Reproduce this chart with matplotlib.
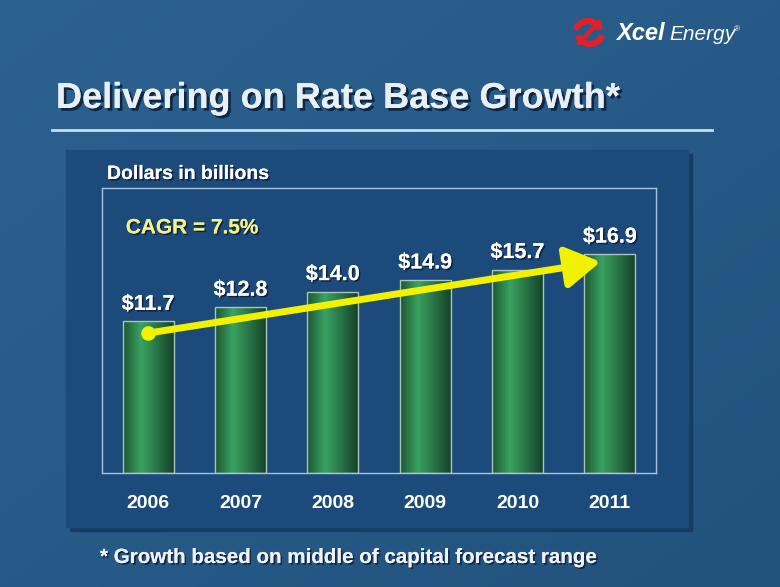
import numpy as np
import matplotlib
matplotlib.use('Agg')
import matplotlib.pyplot as plt
import matplotlib.patheffects as pe
from matplotlib.colors import LinearSegmentedColormap
from matplotlib.patches import Rectangle, Arc

plt.rcParams['font.family'] = ['Liberation Sans', 'DejaVu Sans']

# Datos
years = ['2006', '2007', '2008', '2009', '2010', '2011']
rate_base = [11.7, 12.8, 14.0, 14.9, 15.7, 16.9]
trend_start = 10.8   # inicio de la flecha CAGR
trend_end = 16.3     # punta de la flecha CAGR
trend_end_x = 4.9

title = 'Delivering on Rate Base Growth*'
subtitle = 'Dollars in billions'
cagr_text = 'CAGR = 7.5%'
footnote = '* Growth based on middle of capital forecast range'

W, H = 780, 587
fig = plt.figure(figsize=(W / 100, H / 100), dpi=100)

# Fondo (coordenadas en pixeles)
bg = fig.add_axes([0, 0, 1, 1], zorder=0)
bg.set_xlim(0, W)
bg.set_ylim(H, 0)
bg.axis('off')
yy, xx = np.mgrid[0:H, 0:W]
t = (xx / W * 0.5 + yy / H * 0.5)
c0 = np.array([0x2c, 0x62, 0x90]) / 255
c1 = np.array([0x22, 0x52, 0x7e]) / 255
img = c0[None, None, :] * (1 - t[..., None]) + c1[None, None, :] * t[..., None]
bg.imshow(img, extent=[0, W, H, 0], aspect='auto', zorder=0)

shadow = [pe.withSimplePatchShadow(offset=(2, -2), shadow_rgbFace='#0a1a30', alpha=0.8), pe.Normal()]
small_shadow = [pe.withSimplePatchShadow(offset=(1.2, -1.2), shadow_rgbFace='#0a1a30', alpha=0.8), pe.Normal()]

# Titulo y linea
bg.text(56, 108, title, fontsize=26, fontweight='bold', color='#e8eff6',
        va='baseline', ha='left', path_effects=shadow, zorder=3)
bg.plot([52, 712], [130, 130], color='#c6e0ee', lw=2, zorder=3)

# Logo
bg.add_patch(Arc((588, 34), 26, 26, theta1=200, theta2=340, color='#e0202a', lw=4.5, zorder=3))
bg.add_patch(Arc((590, 31), 26, 26, theta1=20, theta2=160, color='#e0202a', lw=4.5, zorder=3))
bg.plot([579, 599], [43, 22], color='#e0202a', lw=3, zorder=3)
bg.text(616, 40, 'Xcel', fontsize=17, fontweight='bold', style='italic', color='white',
        va='baseline', zorder=3)
bg.text(669, 40, 'Energy', fontsize=15, style='italic', color='white', va='baseline', zorder=3)
bg.text(734, 31, '®', fontsize=6, color='white', va='baseline', zorder=3)

# Panel
bg.add_patch(Rectangle((70, 154), 622, 377, color='#163c62', zorder=1))
bg.add_patch(Rectangle((66, 150), 622, 377, color='#1c4b7b', zorder=2))
bg.text(107, 179, subtitle, fontsize=14, fontweight='bold', color='white',
        va='baseline', path_effects=small_shadow, zorder=3)
bg.text(100, 563, footnote, fontsize=14.8, fontweight='bold', color='#eef2f6',
        va='baseline', path_effects=small_shadow, zorder=3)

# Grafico
ax = fig.add_axes([102 / W, (H - 473) / H, 554 / W, 285 / H], zorder=5)
ax.set_facecolor('none')
x = np.arange(len(years))
bars = ax.bar(x, rate_base, width=0.55, color='none', edgecolor='#a9c4b8', lw=1, zorder=3)
green = LinearSegmentedColormap.from_list('g', [(0, '#1c5632'), (0.35, '#3aa362'), (1, '#15432a')])
grad = np.linspace(0, 1, 100)[None, :]
for b in bars:
    x0, w, h = b.get_x(), b.get_width(), b.get_height()
    im = ax.imshow(grad, cmap=green, extent=[x0, x0 + w, 0, h], aspect='auto', zorder=2)
    im.set_clip_path(b)

for i, v in enumerate(rate_base):
    ax.annotate(f'${v:.1f}', (i, v), xytext=(0, 8.3), textcoords='offset points',
                ha='center', va='baseline', fontsize=15.5, fontweight='bold', color='white',
                path_effects=small_shadow, zorder=6)

# Flecha CAGR
ax.annotate('', xy=(trend_end_x, trend_end), xytext=(0, trend_start),
            arrowprops=dict(arrowstyle='-|>,head_length=0.7,head_width=0.42',
                            mutation_scale=30, lw=5, color='#f2f200', shrinkA=0, shrinkB=0),
            zorder=7)
ax.plot(0, trend_start, 'o', color='#f2f200', markersize=9.5, zorder=8)
ax.text(0.043, 0.86, cagr_text, transform=ax.transAxes, fontsize=15, fontweight='bold',
        color='#f4f08a', va='center', path_effects=small_shadow, zorder=6)

ax.set_xlim(-0.5, 5.5)
ax.set_ylim(0, 22)
ax.set_yticks([])
ax.set_xticks(x)
ax.set_xticklabels(years, fontsize=14, fontweight='bold', color='white')
ax.tick_params(axis='x', length=0, pad=16)
for s in ax.spines.values():
    s.set_color('#a8c4dc')
    s.set_linewidth(1)

fig.savefig('out.png', dpi=100)
